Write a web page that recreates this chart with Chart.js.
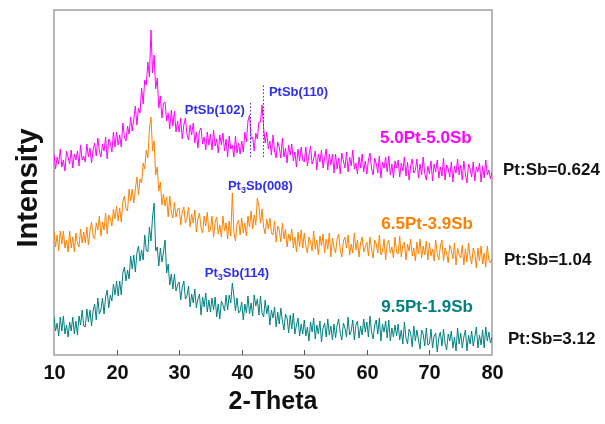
<!DOCTYPE html>
<html>
<head>
<meta charset="utf-8">
<script src="https://cdn.jsdelivr.net/npm/chart.js@4.4.1/dist/chart.umd.min.js"></script>
<style>
  html, body { margin: 0; padding: 0; background: #fff; }
  #wrap { width: 605px; height: 424px; position: relative; }
</style>
</head>
<body>
<div id="wrap"><canvas id="xrdChart"></canvas></div>
<script>
// 2-theta grid of the scans
const angleStart = 10;
const angleStep = 0.25;
const xTicks = [10, 20, 30, 40, 50, 60, 70, 80];

const sampleNames = ['5.0Pt-5.0Sb', '6.5Pt-3.9Sb', '9.5Pt-1.9Sb'];
const ratioLabels = ['Pt:Sb=0.624', 'Pt:Sb=1.04', 'Pt:Sb=3.12'];

// intensities (stacked, arbitrary units)
const pt50 = [
  201,186,198,191,206,188,195,184,204,198,191,205,187,201,195,204,189,210,195,199,
  193,211,198,207,192,205,212,199,217,204,198,211,204,218,196,216,212,203,223,208,
  223,210,220,208,232,218,214,229,221,238,224,236,249,230,247,242,267,251,275,270,
  293,278,325,282,300,266,277,247,259,237,252,253,234,242,226,245,229,244,223,234,
  223,237,216,230,237,221,215,230,220,232,212,223,207,224,227,211,218,205,223,210,
  221,205,225,209,216,202,220,210,222,204,216,198,219,206,210,198,219,202,212,201,
  214,203,223,213,234,240,216,218,204,222,216,233,233,250,227,212,223,206,214,200,
  220,204,197,213,208,197,217,198,207,192,210,200,211,194,203,188,206,194,208,195,
  193,208,189,200,209,191,196,204,185,201,193,205,187,197,206,185,201,190,201,182,
  201,186,197,181,202,194,187,203,183,198,189,205,186,192,181,198,187,201,183,194,
  181,195,202,186,180,197,191,182,199,177,193,187,198,183,199,180,191,177,194,187,
  195,178,192,184,198,179,193,175,189,196,182,185,196,177,191,180,198,182,175,189,
  181,194,174,191,183,195,177,188,179,197,175,190,186,178,193,173,189,182,196,180,
  190,175,194,181,172,191,186,178,193,174,188,183,192,173,189,177,195,180,185,176,
  183
];
const pt65 = [
  124,108,120,104,124,111,124,107,115,103,124,107,118,103,122,112,108,126,112,123,
  112,128,110,124,133,119,116,132,125,139,119,133,125,142,121,140,137,129,146,136,
  149,134,147,133,153,159,146,144,166,154,166,152,166,178,160,176,172,192,186,205,
  197,226,238,204,214,180,188,164,173,150,161,149,158,138,159,143,137,153,138,146,
  147,130,143,148,132,136,148,128,141,132,145,123,136,142,127,122,139,129,143,123,
  125,139,118,133,138,121,130,118,139,124,132,116,134,119,162,123,114,131,135,120,
  137,122,132,119,139,128,144,126,140,130,157,149,132,146,128,121,136,126,137,122,
  120,134,113,129,125,113,132,116,126,108,121,114,126,107,118,103,123,108,125,107,
  122,109,102,118,113,104,124,106,115,100,119,109,121,102,116,106,122,98,117,107,
  102,116,121,105,98,114,118,107,120,100,111,102,122,105,115,98,112,118,103,108,
  113,99,118,106,97,115,111,102,120,100,104,116,95,111,115,102,108,97,118,103,
  101,119,98,110,113,95,111,104,116,99,107,94,113,101,116,97,109,100,114,95,
  112,99,106,94,115,101,95,109,115,94,107,102,92,110,105,96,112,90,107,100,
  97,110,90,106,93,112,98,91,107,102,87,107,94,109,91,102,88,109,95,92,
  96
];
const pt95 = [
  38,24,32,19,38,24,39,21,30,18,33,24,38,21,34,20,39,30,45,29,
  28,46,33,45,29,44,51,35,57,41,45,57,41,58,65,47,60,54,71,60,
  74,59,74,60,82,88,74,85,76,99,86,100,83,102,109,94,105,95,120,105,
  103,128,114,138,152,104,108,89,107,93,103,115,82,91,70,81,66,81,64,70,
  73,55,68,74,56,59,69,48,61,52,66,47,56,61,40,58,48,62,43,55,
  43,57,45,58,38,51,36,54,50,44,60,45,60,52,72,59,44,57,42,44,
  53,35,51,42,59,41,52,39,60,49,56,40,59,42,38,55,41,50,30,45,
  37,48,28,43,31,47,34,25,41,37,22,40,26,42,21,30,37,19,31,21,
  35,19,28,14,33,23,37,16,30,21,34,13,27,32,18,36,20,29,15,31,
  17,30,36,22,15,32,27,18,38,20,24,35,15,30,34,17,29,20,36,23,
  33,18,39,23,16,30,35,21,37,14,31,23,34,17,35,14,27,18,30,19,
  31,15,25,11,33,17,11,26,22,8,29,14,25,15,6,25,21,9,27,10,
  11,26,7,19,22,3,17,23,9,26,12,5,21,14,24,7,18,4,27,11,
  22,7,18,25,4,20,11,24,9,18,28,7,20,10,25,7,28,14,23,12,
  18
];

const lineColors = ['#ff00ff', '#ff8000', '#008080'];
const FONT = '"Liberation Sans", Arial, sans-serif';
const BLUE = '#2f2ff0';

function toPoints(values) {
    return values.map((v, i) => ({ x: angleStart + i * angleStep, y: v }));
}

// labels inside the plot, placed in data units
const peakLabels = [
    { text: 'PtSb(102)', x: 30.9, y: 245 },
    { text: 'PtSb(110)', x: 44.35, y: 263 },
    { text: 'Pt|3|Sb(008)', x: 37.8, y: 169 },
    { text: 'Pt|3|Sb(114)', x: 34.1, y: 82 }
];
const peakMarks = [
    { x: 41.3, from: 198, to: 253 },
    { x: 43.4, from: 198, to: 270 }
];
const namePos = [{ x: 62.1, y: 217 }, { x: 62.3, y: 131 }, { x: 62.3, y: 48 }];
const ratioPos = [{ dx: 11, y: 185 }, { dx: 12, y: 95 }, { dx: 16, y: 16 }];

const decorations = {
    id: 'decorations',
    beforeDatasetsDraw(chart) {
        const { ctx, chartArea: a, scales } = chart;
        ctx.save();
        ctx.strokeStyle = '#a0a0a0';
        ctx.lineWidth = 1.5;
        ctx.strokeRect(a.left, a.top, a.right - a.left, a.bottom - a.top);
        // inward ticks + tick labels
        ctx.strokeStyle = '#555';
        ctx.lineWidth = 1;
        ctx.fillStyle = '#111';
        ctx.font = 'bold 20px ' + FONT;
        ctx.textAlign = 'center';
        ctx.textBaseline = 'middle';
        xTicks.forEach((t, i) => {
            const px = Math.round(scales.x.getPixelForValue(t)) + 0.5;
            if (i > 0 && i < xTicks.length - 1) {
                ctx.beginPath();
                ctx.moveTo(px, a.bottom);
                ctx.lineTo(px, a.bottom - 5);
                ctx.stroke();
            }
            ctx.fillText(String(t), px, a.bottom + 18);
        });
        ctx.restore();
    },
    afterDatasetsDraw(chart) {
        const { ctx, chartArea: a, scales } = chart;
        const sx = scales.x, sy = scales.y;
        ctx.save();

        // dotted peak markers
        ctx.strokeStyle = BLUE;
        ctx.lineWidth = 1;
        ctx.setLineDash([1.5, 2]);
        peakMarks.forEach(m => {
            const px = Math.round(sx.getPixelForValue(m.x)) + 0.5;
            ctx.beginPath();
            ctx.moveTo(px, sy.getPixelForValue(m.from));
            ctx.lineTo(px, sy.getPixelForValue(m.to));
            ctx.stroke();
        });
        ctx.setLineDash([]);

        // peak names, "|" splits off a subscript
        ctx.fillStyle = BLUE;
        ctx.textBaseline = 'middle';
        ctx.textAlign = 'left';
        peakLabels.forEach(l => {
            let px = sx.getPixelForValue(l.x);
            const py = sy.getPixelForValue(l.y);
            l.text.split('|').forEach((part, i) => {
                const sub = i === 1;
                ctx.font = 'bold ' + (sub ? 9 : 13) + 'px ' + FONT;
                ctx.fillText(part, px, py + (sub ? 5 : 0));
                px += ctx.measureText(part).width;
            });
        });

        // sample names
        ctx.font = 'bold 17px ' + FONT;
        sampleNames.forEach((n, i) => {
            ctx.fillStyle = lineColors[i];
            ctx.fillText(n, sx.getPixelForValue(namePos[i].x), sy.getPixelForValue(namePos[i].y));
        });

        // Pt:Sb ratios, outside the frame
        ctx.fillStyle = '#111';
        ratioLabels.forEach((r, i) => {
            ctx.fillText(r, a.right + ratioPos[i].dx, sy.getPixelForValue(ratioPos[i].y));
        });

        // axis titles
        ctx.font = 'bold 25px ' + FONT;
        ctx.textAlign = 'center';
        ctx.fillText('2-Theta', (a.left + a.right) / 2, 402);
        ctx.translate(29, 188);
        ctx.rotate(-Math.PI / 2);
        ctx.font = 'bold 29px ' + FONT;
        ctx.fillText('Intensity', 0, 0);
        ctx.restore();
    }
};

const chartData = {
    datasets: [pt50, pt65, pt95].map((vals, i) => ({
        label: sampleNames[i],
        data: toPoints(vals),
        borderColor: lineColors[i],
        borderWidth: 1,
        pointRadius: 0,
        tension: 0
    }))
};

const chartConfig = {
    type: 'line',
    data: chartData,
    options: {
        responsive: false,
        animation: false,
        layout: {
            padding: { left: 54, right: 113, top: 10, bottom: 69 }
        },
        plugins: {
            legend: { display: false },
            tooltip: { enabled: false }
        },
        scales: {
            x: {
                type: 'linear',
                min: 10,
                max: 80,
                display: false
            },
            y: {
                min: 0,
                max: 345,
                display: false
            }
        }
    },
    plugins: [decorations]
};

const canvas = document.getElementById('xrdChart');
canvas.width = 605;
canvas.height = 424;
new Chart(canvas, chartConfig);
</script>
</body>
</html>
